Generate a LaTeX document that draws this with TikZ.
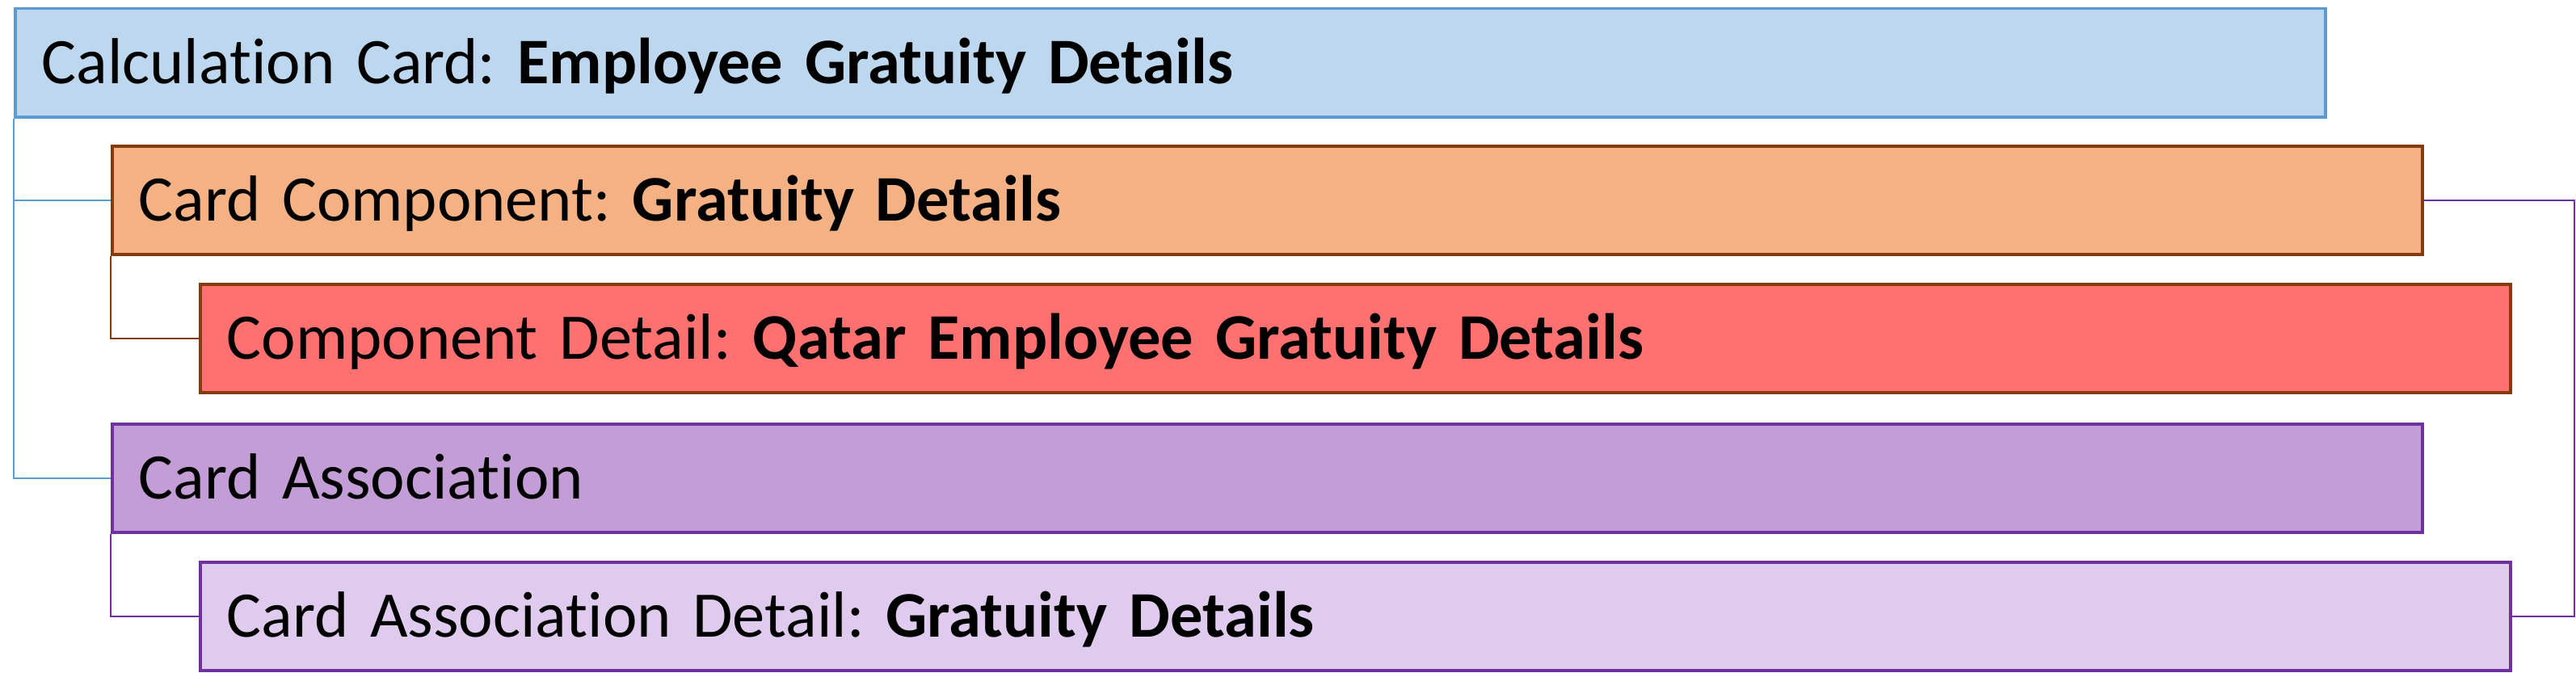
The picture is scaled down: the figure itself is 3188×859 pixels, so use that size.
\documentclass[tikz,border=0pt]{standalone}
\usepackage{fontspec}
\setmainfont[Ligatures=NoCommon]{Carlito}
\definecolor{bluefill}{HTML}{BDD7EE}
\definecolor{blueline}{HTML}{5B9BD5}
\definecolor{orangefill}{HTML}{F4B183}
\definecolor{brownline}{HTML}{843C0C}
\definecolor{redfill}{HTML}{FF7171}
\definecolor{purplefill}{HTML}{C39DD6}
\definecolor{lilacfill}{HTML}{DFCBEE}
\definecolor{purpleline}{HTML}{7030A0}
\tikzset{
  card/.style={draw, line width=3.5pt, rectangle, anchor=north west,
    minimum width=2859pt, minimum height=134pt, text width=2859pt-66pt,
    inner xsep=33pt, inner ysep=0pt, align=left,
    font=\fontsize{80.5}{97}\selectfont\frenchspacing, text height=52pt, text depth=0pt},
  link/.style={line width=2.2pt}
}
\begin{document}
\begin{tikzpicture}[x=1pt,y=-1pt]
\useasboundingbox (0,0) rectangle (3188,859);
\node[card, fill=bluefill, draw=blueline] (b1) at (17,9) {Calculation Card: \textbf{Employee Gratuity Details}};
\node[card, fill=orangefill, draw=brownline] (b2) at (137,179) {Card Component: \textbf{Gratuity Details}};
\node[card, fill=redfill, draw=brownline] (b3) at (246,350) {Component Detail: \textbf{Qatar Employee Gratuity Details}};
\node[card, fill=purplefill, draw=purpleline] (b4) at (137,523) {Card Association};
\node[card, fill=lilacfill, draw=purpleline] (b5) at (246,694) {Card Association Detail: \textbf{Gratuity Details}};
\coordinate (r) at (3186,0);
\draw[link, blueline] (b1.south west) |- (b2.west);
\draw[link, blueline] (b1.south west) |- (b4.west);
\draw[link, brownline] (b2.south west) |- (b3.west);
\draw[link, purpleline] (b4.south west) |- (b5.west);
\draw[link, purpleline] (b2.east) -- (b2.east -| r) |- (b5.east);
\end{tikzpicture}
\end{document}
